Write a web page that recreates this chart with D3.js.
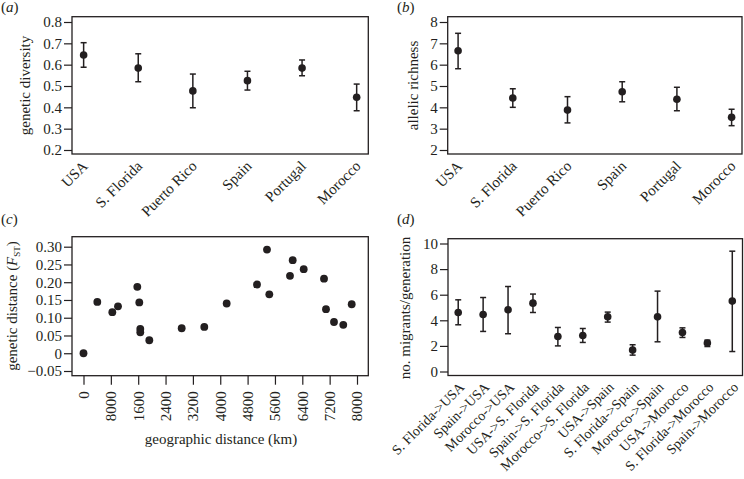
<!DOCTYPE html>
<html><head><meta charset="utf-8">
<script src="https://cdn.jsdelivr.net/npm/d3@7"></script>
<style>
body{margin:0;background:#fff}
svg{display:block}
text{font-family:"Liberation Serif","Times New Roman",serif;fill:#231f20}
</style>
</head><body>
<svg id="chart" width="744" height="479"></svg>
<script>
// ---------- data ----------
const populations = ["USA","S. Florida","Puerto Rico","Spain","Portugal","Morocco"];
const diversityMean = [0.645,0.584,0.477,0.525,0.584,0.447];
const diversityLow  = [0.588,0.520,0.398,0.481,0.548,0.384];
const diversityHigh = [0.703,0.651,0.556,0.569,0.622,0.509];
const diversityTicks = [0.2,0.3,0.4,0.5,0.6,0.7,0.8];

const richnessMean = [6.65,4.44,3.87,4.73,4.38,3.53];
const richnessLow  = [5.81,4.00,3.27,4.26,3.84,3.14];
const richnessHigh = [7.47,4.87,4.50,5.20,4.94,3.91];
const richnessTicks = [2,3,4,5,6,7,8];

const geoDistance = [0,404,843,1009,1574,1632,1661,1661,1925,2872,3533,4188,5075,5367,5435,6040,6119,6441,7035,7093,7327,7599,7845];
const fstValues   = [0,0.1445,0.1155,0.132,0.187,0.143,0.0686,0.059,0.0366,0.0704,0.074,0.140,0.1935,0.292,0.166,0.218,0.262,0.2366,0.210,0.124,0.088,0.080,0.138];
const distTickValues = [0,800,1600,2400,3200,4000,4800,5600,6400,7200,8000];
const distTickLabels = ["0","8000","1600","2400","3200","4000","4800","5600","6400","7200","8000"];
const fstTickValues = [0.30,0.25,0.20,0.15,0.10,0.05,0,-0.05];
const fstTickLabels = ["0.30","0.25","0.20","0.15","0.10","0.05","0","\u22120.05"];

const routes = ["S. Florida->USA","Spain->USA","Morocco->USA","USA->S. Florida","Spain->S. Florida","Morocco->S. Florida","USA->Spain","S. Florida->Spain","Morocco->Spain","USA->Morocco","S. Florida->Morocco","Spain->Morocco"];
const migrantsMean = [4.61,4.45,4.82,5.34,2.73,2.81,4.27,1.67,4.27,3.05,2.22,5.50];
const migrantsLow  = [3.65,3.13,2.95,4.61,2.00,2.27,3.86,1.28,2.32,2.66,1.95,1.56];
const migrantsHigh = [5.60,5.78,6.64,6.05,3.44,3.36,4.64,2.09,6.28,3.41,2.45,9.40];
const migrantsTicks = [0,2,4,6,8,10];

// ---------- drawing ----------
const svg = d3.select("#chart");
const INK = "#231f20";
const TICKFS = 15, TITLEFS = 15;

function drawBox(b){
  svg.append("rect").attr("x",b.x0).attr("y",b.y0)
    .attr("width",b.x1-b.x0).attr("height",b.y1-b.y0)
    .attr("fill","none").attr("stroke",INK).attr("stroke-width",1.3);
}
function yAxis(b, y, ticks, labels){
  const ax = d3.axisLeft(y).tickValues(ticks).tickSize(8).tickPadding(2)
    .tickFormat((d,i)=>labels ? labels[i] : String(d));
  const g = svg.append("g").attr("transform",`translate(${b.x0},0)`).call(ax);
  g.select(".domain").remove();
  g.selectAll(".tick line").attr("stroke",INK).attr("stroke-width",1.2);
  g.selectAll(".tick text").attr("font-size",TICKFS).attr("fill",INK)
    .style("font-family",'"Liberation Serif",serif');
}
function yTitle(x, yc, txt){
  return svg.append("text").attr("transform",`translate(${x},${yc}) rotate(-90)`)
    .attr("text-anchor","middle").attr("font-size",TITLEFS).text(txt);
}
function panelLabel(x, y, letter){
  const t = svg.append("text").attr("x",x).attr("y",y).attr("font-size",15);
  t.append("tspan").text("(");
  t.append("tspan").attr("font-style","italic").text(letter);
  t.append("tspan").text(")");
}
function catLabels(x, cats, yBase, dx, fs){
  svg.append("g").selectAll("text").data(cats).join("text")
    .attr("transform",d=>`translate(${x(d)+dx},${yBase}) rotate(-45)`)
    .attr("text-anchor","end").attr("font-size",fs).text(d=>d);
}
function errorPoints(x, y, cats, mean, low, high, r){
  const g = svg.append("g");
  const data = cats.map((c,i)=>({c, m:mean[i], lo:low[i], hi:high[i]}));
  g.selectAll("line.v").data(data).join("line").attr("class","v")
    .attr("x1",d=>x(d.c)).attr("x2",d=>x(d.c))
    .attr("y1",d=>y(d.lo)).attr("y2",d=>y(d.hi))
    .attr("stroke",INK).attr("stroke-width",1.5);
  ["lo","hi"].forEach(k=>{
    g.selectAll("line.c"+k).data(data).join("line").attr("class","c"+k)
      .attr("x1",d=>x(d.c)-3).attr("x2",d=>x(d.c)+3)
      .attr("y1",d=>y(d[k])).attr("y2",d=>y(d[k]))
      .attr("stroke",INK).attr("stroke-width",1.5);
  });
  g.selectAll("circle").data(data).join("circle")
    .attr("cx",d=>x(d.c)).attr("cy",d=>y(d.m)).attr("r",r).attr("fill",INK);
}

// Panel (a)
{
  const b = {x0:72, y0:16.7, x1:368.3, y1:154};
  const x = d3.scalePoint().domain(populations).range([b.x0,b.x1]).padding(0.213);
  const y = d3.scaleLinear().domain([0.2,0.8]).range([150,22]);
  drawBox(b);
  yAxis(b, y, diversityTicks, diversityTicks.map(d3.format(".1f")));
  errorPoints(x, y, populations, diversityMean, diversityLow, diversityHigh, 3.8);
  catLabels(x, populations, 167, 5, TICKFS);
  yTitle(30, 85.5, "genetic diversity");
  panelLabel(1, 12, "a");
}
// Panel (b)
{
  const b = {x0:447.7, y0:16.7, x1:742, y1:154};
  const x = d3.scalePoint().domain(populations).range([b.x0,b.x1]).padding(0.19);
  const y = d3.scaleLinear().domain([2,8]).range([150,22]);
  drawBox(b);
  yAxis(b, y, richnessTicks, null);
  errorPoints(x, y, populations, richnessMean, richnessLow, richnessHigh, 3.8);
  catLabels(x, populations, 167, 5, TICKFS);
  yTitle(417.5, 85.5, "allelic richness");
  panelLabel(397, 12, "b");
}
// Panel (c)
{
  const b = {x0:72, y0:236.7, x1:368.3, y1:375.7};
  const x = d3.scaleLinear().domain([0,8000]).range([83.5,357]);
  const y = d3.scaleLinear().domain([-0.05,0.30]).range([371,246.7]);
  drawBox(b);
  yAxis(b, y, fstTickValues, fstTickLabels);
  const ax = d3.axisBottom(x).tickValues(distTickValues).tickSize(9).tickPadding(0)
    .tickFormat((d,i)=>distTickLabels[i]);
  const g = svg.append("g").attr("transform",`translate(0,${b.y1})`).call(ax);
  g.select(".domain").remove();
  g.selectAll(".tick line").attr("stroke",INK).attr("stroke-width",1.2);
  g.selectAll(".tick text").attr("font-size",TICKFS).attr("fill",INK)
    .style("font-family",'"Liberation Serif",serif')
    .attr("text-anchor","end").attr("y",0)
    .attr("transform","translate(0,15.5) rotate(-90)").attr("dy","0.33em");
  svg.append("g").selectAll("circle").data(geoDistance.map((d,i)=>[d,fstValues[i]])).join("circle")
    .attr("cx",d=>x(d[0])).attr("cy",d=>y(d[1])).attr("r",3.9).attr("fill",INK);
  svg.append("text").attr("x",221).attr("y",444).attr("text-anchor","middle")
    .attr("font-size",TITLEFS).text("geographic distance (km)");
  const t = yTitle(17, 306, "genetic distance (");
  t.append("tspan").attr("font-style","italic").text("F");
  t.append("tspan").attr("font-size",9).attr("dy",3).text("ST");
  t.append("tspan").attr("dy",-3).text(")");
  panelLabel(1, 224, "c");
}
// Panel (d)
{
  const b = {x0:448, y0:238.7, x1:742.5, y1:375.5};
  const x = d3.scalePoint().domain(routes).range([b.x0,b.x1]).padding(0.41);
  const y = d3.scaleLinear().domain([0,10]).range([371.5,243.5]);
  drawBox(b);
  yAxis(b, y, migrantsTicks, null);
  errorPoints(x, y, routes, migrantsMean, migrantsLow, migrantsHigh, 3.8);
  catLabels(x, routes, 388, 7, 14);
  yTitle(410, 308, "no. migrants/generation");
  panelLabel(397, 224, "d");
}
</script>
</body></html>
